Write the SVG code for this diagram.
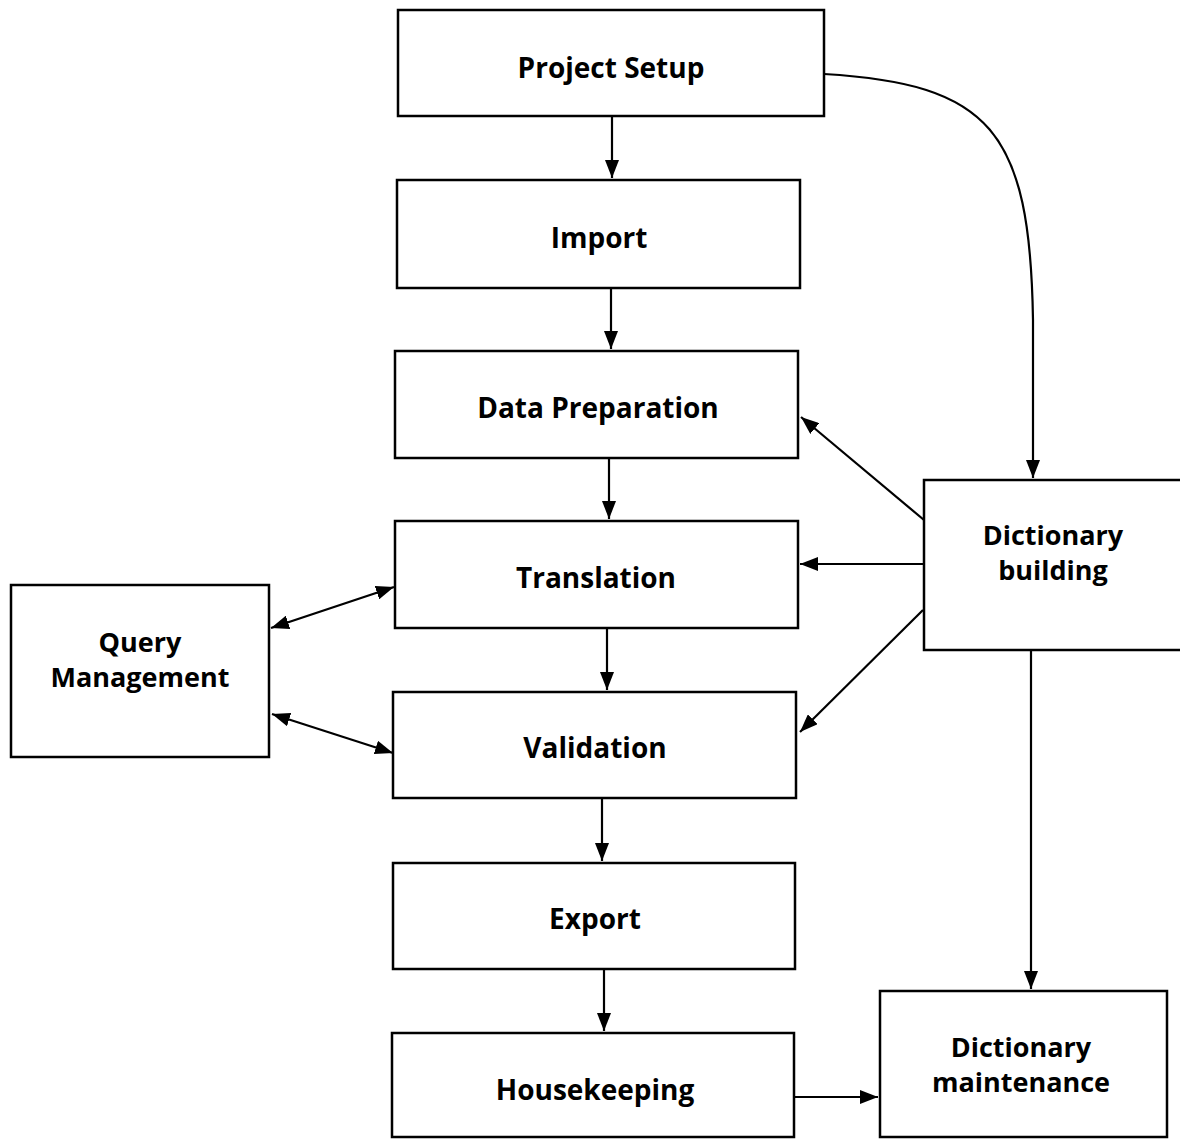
<svg xmlns="http://www.w3.org/2000/svg" width="1180" height="1139" viewBox="0 0 1180 1139">
  <style>
    .box { fill: #fff; stroke: #000; stroke-width: 2.5; }
    .lbl { font-family: "Open Sans", "Liberation Sans", sans-serif; font-weight: bold; font-size: 28px; fill: #000; text-anchor: middle; }
    .lbl2 { font-family: "Open Sans", "Liberation Sans", sans-serif; font-weight: bold; font-size: 27px; fill: #000; text-anchor: middle; }
    .edge { fill: none; stroke: #000; stroke-width: 2.2; }
  </style>
  <defs>
    <marker id="head" viewBox="0 0 18 14" refX="18" refY="7" markerWidth="18" markerHeight="14" markerUnits="userSpaceOnUse" orient="auto-start-reverse">
      <path d="M0,0 L18,7 L0,14 z" fill="#000"/>
    </marker>
  </defs>
  <rect width="1180" height="1139" fill="#fff"/>

  <g id="connectors">
    <line class="edge" x1="612" y1="116" x2="612" y2="178" marker-end="url(#head)"/>
    <line class="edge" x1="611" y1="288" x2="611" y2="349" marker-end="url(#head)"/>
    <line class="edge" x1="609" y1="458" x2="609" y2="519" marker-end="url(#head)"/>
    <line class="edge" x1="607" y1="628" x2="607" y2="690" marker-end="url(#head)"/>
    <line class="edge" x1="602" y1="798" x2="602" y2="861" marker-end="url(#head)"/>
    <line class="edge" x1="604" y1="969" x2="604" y2="1031" marker-end="url(#head)"/>
    <path class="edge" d="M824,74 C990,84 1030,130 1033,320 L1033,478" marker-end="url(#head)"/>
    <line class="edge" x1="924" y1="520" x2="801" y2="417" marker-end="url(#head)"/>
    <line class="edge" x1="924" y1="564" x2="800" y2="564" marker-end="url(#head)"/>
    <line class="edge" x1="923" y1="610" x2="800" y2="732" marker-end="url(#head)"/>
    <line class="edge" x1="1031" y1="650" x2="1031" y2="989" marker-end="url(#head)"/>
    <line class="edge" x1="794" y1="1097" x2="878" y2="1097" marker-end="url(#head)"/>
    <line class="edge" x1="271" y1="628" x2="394" y2="587" marker-start="url(#head)" marker-end="url(#head)"/>
    <line class="edge" x1="272" y1="714" x2="393" y2="753" marker-start="url(#head)" marker-end="url(#head)"/>
  </g>

  <g id="project-setup">
    <rect class="box" x="398" y="10" width="426" height="106"/>
    <text class="lbl" x="611" y="78">Project Setup</text>
  </g>
  <g id="import">
    <rect class="box" x="397" y="180" width="403" height="108"/>
    <text class="lbl" x="599" y="248">Import</text>
  </g>
  <g id="data-preparation">
    <rect class="box" x="395" y="351" width="403" height="107"/>
    <text class="lbl" x="598" y="418">Data Preparation</text>
  </g>
  <g id="translation">
    <rect class="box" x="395" y="521" width="403" height="107"/>
    <text class="lbl" x="596" y="588">Translation</text>
  </g>
  <g id="validation">
    <rect class="box" x="393" y="692" width="403" height="106"/>
    <text class="lbl" x="595" y="758">Validation</text>
  </g>
  <g id="export">
    <rect class="box" x="393" y="863" width="402" height="106"/>
    <text class="lbl" x="595" y="929">Export</text>
  </g>
  <g id="housekeeping">
    <rect class="box" x="392" y="1033" width="402" height="104"/>
    <text class="lbl" x="595" y="1100">Housekeeping</text>
  </g>
  <g id="query-management">
    <rect class="box" x="11" y="585" width="258" height="172"/>
    <text class="lbl2" x="140" y="652">Query</text>
    <text class="lbl2" x="140" y="687">Management</text>
  </g>
  <g id="dictionary-building">
    <rect class="box" x="924" y="480" width="262" height="170"/>
    <text class="lbl2" x="1053" y="545">Dictionary</text>
    <text class="lbl2" x="1053" y="580">building</text>
  </g>
  <g id="dictionary-maintenance">
    <rect class="box" x="880" y="991" width="287" height="146"/>
    <text class="lbl2" x="1021" y="1057">Dictionary</text>
    <text class="lbl2" x="1021" y="1092">maintenance</text>
  </g>
</svg>
